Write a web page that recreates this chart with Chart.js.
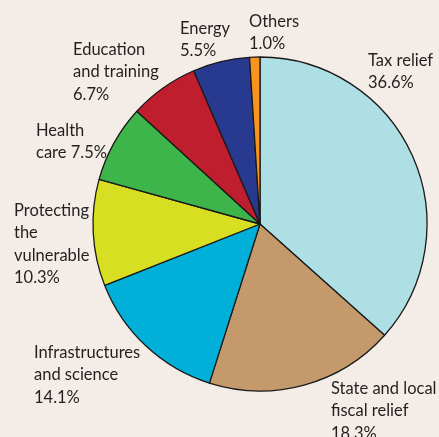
<!DOCTYPE html>
<html>
<head>
<meta charset="utf-8">
<script src="https://cdn.jsdelivr.net/npm/chart.js@4/dist/chart.umd.min.js"></script>
<style>
  html, body { margin: 0; padding: 0; background: #f3ece7; }
  #wrap { width: 439px; height: 437px; }
</style>
</head>
<body>
<div id="wrap"><canvas id="pieChart"></canvas></div>
<script>
// categories in clockwise order starting at 12 o'clock
const categories = ['Tax relief', 'State and local fiscal relief', 'Infrastructures and science',
    'Protecting the vulnerable', 'Health care', 'Education and training', 'Energy', 'Others'];
const shares = [36.6, 18.3, 14.1, 10.3, 7.5, 6.7, 5.5, 1.0];
// how each label is broken into lines (last line is the percentage)
const labelLines = [
    ['Tax relief', '36.6%'],
    ['State and local', 'fiscal relief', '18.3%'],
    ['Infrastructures', 'and science', '14.1%'],
    ['Protecting', 'the', 'vulnerable', '10.3%'],
    ['Health', 'care 7.5%'],
    ['Education', 'and training', '6.7%'],
    ['Energy', '5.5%'],
    ['Others', '1.0%']
];
const colors = ['#aedfe4', '#c49a6c', '#00b0d8', '#d8df22', '#3db54a', '#be1e2d', '#283a8f', '#f7941d'];

// label top-left offsets from the pie centre, in px
const labelOffsets = [
    [108, -171], [71, 157], [-226, 121], [-246, -21],
    [-224, -101], [-187, -182], [-80, -203], [-11, -210]
];

const labelPlugin = {
    id: 'outsideLabels',
    afterDraw(chart) {
        const ctx = chart.ctx;
        const arc = chart.getDatasetMeta(0).data[0];
        const cx = arc.x, cy = arc.y;
        ctx.save();
        ctx.fillStyle = '#231f20';
        ctx.font = '16.5px Lato';
        ctx.textBaseline = 'alphabetic';
        ctx.textAlign = 'left';
        labelLines.forEach((lines, i) => {
            const [dx, dy] = labelOffsets[i];
            lines.forEach((line, j) => {
                ctx.fillText(line, cx + dx, cy + dy + 12.5 + j * 22.5);
            });
        });
        ctx.restore();
    }
};

new Chart(document.getElementById('pieChart'), {
    type: 'pie',
    data: {
        labels: categories,
        datasets: [{
            data: shares,
            backgroundColor: colors,
            borderColor: '#1a1a1a',
            borderWidth: 1.3,
            radius: 167
        }]
    },
    options: {
        responsive: true,
        maintainAspectRatio: false,
        animation: false,
        layout: { padding: { left: 81, right: 0, top: 11, bottom: 0 } },
        plugins: {
            legend: { display: false },
            tooltip: { enabled: false }
        }
    },
    plugins: [labelPlugin]
});
</script>
</body>
</html>
